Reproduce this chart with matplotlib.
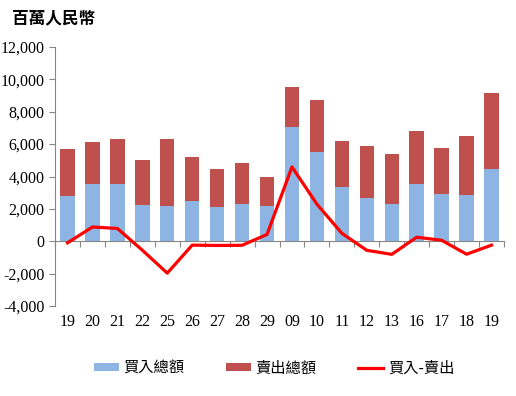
import matplotlib
matplotlib.use('Agg')
import numpy as np
import matplotlib.pyplot as plt
from matplotlib.transforms import blended_transform_factory

plt.rcParams['font.family'] = ['Liberation Serif', 'Noto Sans CJK TC']

# 數據 (百萬人民幣)
labels = ['19', '20', '21', '22', '25', '26', '27', '28', '29', '09',
          '10', '11', '12', '13', '16', '17', '18', '19']
buy = [2800, 3520, 3550, 2230, 2170, 2480, 2100, 2290, 2190, 7060,
       5510, 3340, 2660, 2290, 3530, 2910, 2850, 4460]
sell = [2900, 2640, 2760, 2780, 4140, 2720, 2360, 2540, 1770, 2470,
        3220, 2850, 3220, 3100, 3280, 2850, 3650, 4700]
net = [b - s for b, s in zip(buy, sell)]

fig = plt.figure(figsize=(5.16, 3.96), dpi=100)
ax = fig.add_axes([55 / 516, 90 / 396, 449 / 516, 259 / 396])

x = np.arange(len(labels))
b1 = ax.bar(x, buy, width=0.58, color='#8EB4E3', label='買入總額', zorder=2)
b2 = ax.bar(x, sell, width=0.58, bottom=buy, color='#C0504D', label='賣出總額', zorder=2)
l1, = ax.plot(x, net, color='#FF0000', lw=2.3, label='買入-賣出', zorder=3)

ax.set_xlim(-0.5, len(labels) - 0.5)
ax.set_ylim(-4000, 12000)
ax.set_yticks(range(-4000, 12001, 2000))
ax.set_yticklabels([f'{v:,}' for v in range(-4000, 12001, 2000)], fontsize=11.5)

for s in ['top', 'right']:
    ax.spines[s].set_visible(False)
ax.spines['left'].set_color('#868686')
ax.spines['bottom'].set_color('#868686')
ax.spines['bottom'].set_position(('data', 0))
ax.tick_params(axis='y', colors='#868686', length=4, labelcolor='black')
ax.set_xticks(np.arange(len(labels) + 1) - 0.5)
ax.tick_params(axis='x', colors='#868686', length=4, labelbottom=False)

trans = blended_transform_factory(ax.transData, ax.transAxes)
for i, lab in enumerate(labels):
    ax.text(i, -0.03, lab, transform=trans, ha='center', va='top', fontsize=11.5)

fig.text(12 / 516, 1 - 18 / 396, '百萬人民幣', fontsize=12, fontweight='bold',
         family=['Noto Sans CJK TC'], va='center')

fig.legend([b1, b2, l1], ['買入總額', '賣出總額', '買入-賣出'],
           loc='center', bbox_to_anchor=(274 / 516, 1 - 368 / 396), ncol=3, frameon=False,
           prop={'family': ['Noto Sans CJK TC'], 'size': 11},
           handlelength=1.65, handleheight=0.45, columnspacing=2.7, handletextpad=0.3)

fig.savefig('out.png', dpi=100)
